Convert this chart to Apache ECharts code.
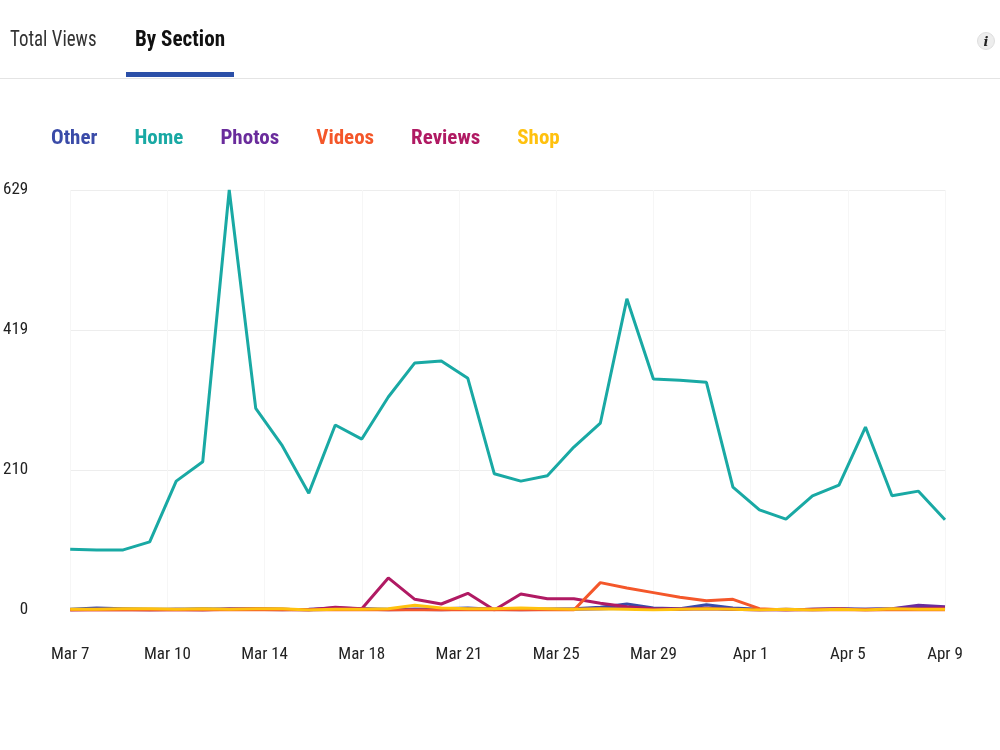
<!DOCTYPE html>
<html>
<head>
<meta charset="utf-8">
<script src="https://cdn.jsdelivr.net/npm/echarts@6/dist/echarts.min.js"></script>
<style>
  html, body { margin: 0; padding: 0; background: #fff; }
  body { width: 1000px; height: 750px; position: relative; overflow: hidden;
    font-family: "Liberation Sans Narrow", "Roboto Condensed", "DejaVu Sans Condensed", sans-serif; }
  .tab { position: absolute; top: 25px; font-size: 22px; line-height: 28px; transform-origin: left center; }
  .tab-total { left: 10px; color: #333; transform: scaleX(0.86); }
  .tab-section { left: 135px; color: #111; font-weight: bold; transform: scaleX(0.96); }
  .tab-bar { position: absolute; left: 126px; top: 72px; width: 108px; height: 5px; background: #2b4fa8; }
  .divider { position: absolute; left: 0; top: 78px; width: 1000px; height: 1px; background: #e4e4e4; }
  .info { position: absolute; left: 977px; top: 32px; width: 18px; height: 18px; border-radius: 50%;
    background: #ededed; border: 1px solid #dedede; box-sizing: border-box; color: #222;
    font: italic bold 13px "DejaVu Serif", serif; text-align: center; line-height: 17px; }
  #chart { position: absolute; left: 0; top: 0; width: 1000px; height: 750px; }
</style>
</head>
<body>
<div id="chart"></div>
<div class="tab tab-total">Total Views</div>
<div class="tab tab-section">By Section</div>
<div class="tab-bar"></div>
<div class="divider"></div>
<div class="info">i</div>
<script>
const dates = [
  "Mar 7", "Mar 8", "Mar 9", "Mar 10", "Mar 11", "Mar 12", "Mar 13", "Mar 14", "Mar 15", "Mar 16",
  "Mar 17", "Mar 18", "Mar 19", "Mar 20", "Mar 21", "Mar 22", "Mar 23", "Mar 24", "Mar 25", "Mar 26",
  "Mar 27", "Mar 28", "Mar 29", "Mar 30", "Mar 31", "Apr 1", "Apr 2", "Apr 3", "Apr 4", "Apr 5",
  "Apr 6", "Apr 7", "Apr 8", "Apr 9"
];

const homeValues = [91, 90, 90, 102, 193, 222, 629, 302, 246, 175, 277, 256, 319, 370, 373, 347, 204,
  193, 201, 244, 280, 466, 346, 344, 341, 184, 150, 136, 171, 187, 274, 171, 178, 135];
const otherValues = [1, 3, 2, 1, 1, 2, 1, 2, 1, 0, 1, 2, 1, 1, 2, 3, 1, 2, 1, 2, 4, 9, 3, 2, 8, 3, 1,
  0, 1, 2, 1, 2, 4, 3];
const photosValues = [0, 1, 1, 0, 1, 0, 2, 1, 0, 1, 3, 2, 0, 1, 0, 2, 1, 0, 1, 1, 2, 3, 1, 2, 3, 1, 0,
  1, 0, 1, 1, 2, 7, 5];
const videosValues = [0, 0, 0, 0, 0, 0, 0, 0, 0, 0, 0, 0, 0, 0, 0, 0, 0, 0, 0, 0, 41, 33, 26, 19, 14,
  16, 2, 0, 0, 0, 0, 0, 0, 0];
const reviewsValues = [0, 0, 0, 0, 0, 0, 1, 2, 1, 0, 4, 2, 48, 16, 9, 25, 0, 24, 17, 17, 10, 5, 2, 1,
  2, 1, 0, 0, 1, 2, 0, 1, 2, 3];
const shopValues = [1, 1, 2, 2, 1, 2, 1, 2, 2, 0, 1, 1, 2, 7, 3, 2, 2, 3, 2, 1, 2, 1, 0, 1, 2, 1, 0,
  1, 0, 1, 0, 2, 1, 1];

const yMax = 629;
const labelCount = 9; // gaps between the ten date labels

const seriesList = [
  { name: "Other", color: "#3a4ba8", values: otherValues },
  { name: "Home", color: "#19a9a4", values: homeValues },
  { name: "Photos", color: "#6a2c9c", values: photosValues },
  { name: "Videos", color: "#f4572a", values: videosValues },
  { name: "Reviews", color: "#b01a63", values: reviewsValues },
  { name: "Shop", color: "#ffc10e", values: shopValues },
];

// Home first so the small sections are drawn on top of it, Shop last
const drawOrder = ["Home", "Other", "Photos", "Reviews", "Videos", "Shop"];

const chart = echarts.init(document.getElementById("chart"));

const fontFamily = '"Liberation Sans Narrow", "Roboto Condensed", "DejaVu Sans Condensed", sans-serif';
const lastIndex = dates.length - 1;

chart.setOption({
  animation: false,
  textStyle: { fontFamily },
  legend: {
    left: 41,
    top: 123,
    icon: "none",
    itemWidth: 0,
    itemGap: 32,
    selectedMode: false,
    data: seriesList.map((s) => ({
      name: s.name,
      textStyle: { color: s.color, fontSize: 21, fontWeight: "bold", fontFamily },
    })),
  },
  grid: {
    left: 69,
    right: 55,
    top: 190,
    bottom: 140,
    containLabel: false,
  },
  xAxis: {
    type: "value",
    min: 0,
    max: lastIndex,
    interval: lastIndex / labelCount,
    axisLine: { show: false },
    axisTick: { show: false },
    splitLine: { show: true, lineStyle: { color: "#f6f6f6", width: 1 } },
    axisLabel: {
      color: "#222",
      fontSize: 17,
      margin: 36,
      formatter: (v) => dates[Math.min(lastIndex, Math.floor(v + 0.01))],
    },
  },
  yAxis: {
    type: "value",
    min: 0,
    max: yMax,
    interval: yMax / 3,
    axisLine: { show: false },
    axisTick: { show: false },
    splitLine: { lineStyle: { color: "#ededed", width: 1 } },
    axisLabel: {
      color: "#222",
      fontSize: 17,
      margin: 42,
      formatter: (v) => String(Math.round(v)),
    },
  },
  series: drawOrder.map((name) => {
    const s = seriesList.find((item) => item.name === name);
    return {
      name: s.name,
      type: "line",
      showSymbol: false,
      silent: true,
      color: s.color,
      lineStyle: { width: 3, color: s.color },
      data: s.values.map((v, i) => [i, v]),
    };
  }),
});
</script>
</body>
</html>
